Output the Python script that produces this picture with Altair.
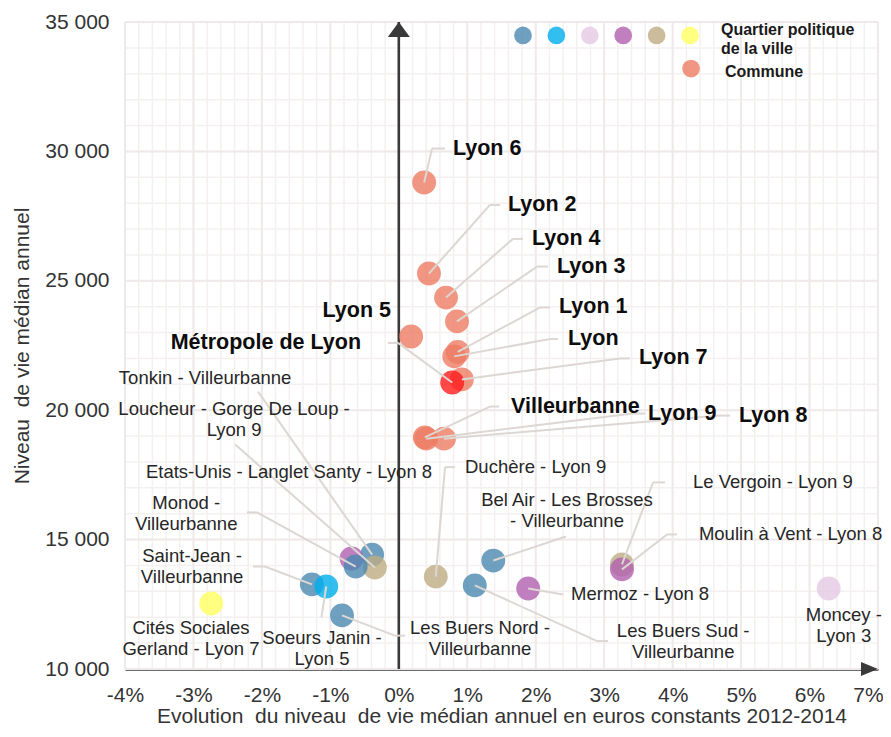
import altair as alt
import pandas as pd
import numpy as np

# ---------------- data ----------------
names = [
    "Lyon 6", "Lyon 2", "Lyon 4", "Lyon 3", "Lyon 5", "Lyon 1", "Lyon", "Lyon 7",
    "Métropole de Lyon", "Villeurbanne", "Lyon 9", "Lyon 8",
    "Tonkin - Villeurbanne", "Loucheur - Gorge De Loup - Lyon 9",
    "Etats-Unis - Langlet Santy - Lyon 8", "Monod - Villeurbanne",
    "Saint-Jean - Villeurbanne", "Soeurs Janin - Lyon 5",
    "Les Buers Nord - Villeurbanne", "Cités Sociales Gerland - Lyon 7",
    "Duchère - Lyon 9", "Bel Air - Les Brosses - Villeurbanne",
    "Les Buers Sud - Villeurbanne", "Mermoz - Lyon 8", "Le Vergoin - Lyon 9",
    "Moulin à Vent - Lyon 8", "Moncey - Lyon 3",
]
evolution = [0.37, 0.44, 0.69, 0.85, 0.18, 0.86, 0.81, 0.92,
             0.78, 0.38, 0.40, 0.66,
             -0.39, -0.35, -0.69, -0.63, -1.27, -1.06, -0.83, -2.74,
             0.54, 1.38, 1.11, 1.89, 3.26, 3.26, 6.28]
niveau = [28800, 25280, 24350, 23430, 22850, 22250, 22080, 21190,
          21070, 18950, 18900, 18900,
          14420, 13920, 14270, 13960, 13270, 13190, 12070, 12530,
          13570, 14190, 13230, 13110, 14040, 13850, 13110]
groupe = ["Commune"] * 8 + ["Métropole"] + ["Commune"] * 3 + [
    "Villeurbanne", "Lyon 9", "Lyon 8", "Villeurbanne", "Villeurbanne", "Lyon 5",
    "Villeurbanne", "Lyon 7", "Lyon 9", "Villeurbanne", "Villeurbanne", "Lyon 8",
    "Lyon 9", "Lyon 8", "Lyon 3"]

# colour groups (QPV by commune, then communes)
group_names = ["Villeurbanne", "Lyon 5", "Lyon 3", "Lyon 8", "Lyon 9", "Lyon 7",
               "Commune", "Métropole"]
group_colors = ["#4b88b0", "#00aeec", "#e5c9e5", "#b060b0", "#beac83", "#ffff60",
                "#ed7c63", "#ff1a1a"]

# ---------------- annotation layout (data units) ----------------
label_text = [
    "Lyon 6", "Lyon 2", "Lyon 4", "Lyon 3", "Lyon 5", "Lyon 1", "Lyon", "Lyon 7",
    "Métropole de Lyon", "Villeurbanne", "Lyon 9", "Lyon 8",
    "Tonkin - Villeurbanne", "Loucheur - Gorge De Loup -\nLyon 9",
    "Etats-Unis - Langlet Santy - Lyon 8", "Monod  -\nVilleurbanne",
    "Saint-Jean -\nVilleurbanne", "Soeurs Janin -\nLyon 5",
    "Les Buers Nord -\nVilleurbanne", "Cités Sociales\nGerland - Lyon 7",
    "Duchère - Lyon 9", "Bel Air - Les Brosses\n- Villeurbanne",
    "Les Buers Sud -\nVilleurbanne", "Mermoz - Lyon 8", "Le Vergoin  - Lyon 9",
    "Moulin à Vent - Lyon 8", "Moncey -\nLyon 3",
]
label_x = [0.79, 1.595, 1.946, 2.311, -0.114, 2.34, 2.472, 3.509,
           -0.552, 1.639, 3.64, 4.97,
           -2.83, -2.407, -1.604, -3.106, -3.02, -1.122, 1.186, -3.036,
           0.967, 2.457, 4.154, 2.516, 4.298, 4.384, 6.50]
label_y = [30110, 27930, 26620, 25550, 23850, 23970, 22750, 22000,
           22600, 20140, 19870, 19790,
           21260, 20030, 17630, 16400, 14350, 11180, 11600, 11565,
           17800, 16520, 11450, 12880, 17210, 15200, 12080]
label_align = ["left"] * 4 + ["right", "left", "left", "left", "right"] + ["left"] * 3 + [
    "center"] * 8 + ["left", "center", "center", "left", "left", "left", "center"]
label_bold = [True] * 12 + [False] * 15
# leader lines: elbow (ex, ey) then horizontal end hx ; None = no leader
lead_ex = [0.485, 1.33, 1.667, 2.019, None, 2.063, 2.209, 3.231,
           -0.012, 1.33, 3.42, 4.648,
           -2.056, -2.39, None, -2.072, -1.955, -1.13, -0.056, None,
           0.675, 2.443, 2.896, 2.40, 3.714, 3.918, None]
lead_ey = [30110, 27930, 26620, 25550, None, 23970, 22750, 22000,
           22600, 20140, 19870, 19790,
           20720, 18670, None, 16050, 13960, 12000, 11290, None,
           17800, 15120, 11080, 12880, 17210, 15200, None]
lead_hx = [0.675, 1.48, 1.813, 2.18, None, 2.209, 2.326, 3.377,
           -0.158, 1.464, 3.597, 4.838,
           -2.056, -2.39, None, -2.218, -2.13, -1.13, 0.09, None,
           0.821, 2.443, 3.056, 2.40, 3.889, 4.065, None]

# legend (positions in data units, top right corner)
legend_groups = group_names[:6] + ["Commune"]
legend_x = [1.814 + 0.488 * i for i in range(6)] + [4.269]
legend_y = [34480] * 6 + [33200]
legend_text = ["Quartier politique", "de la ville", "Commune"]
legend_tx = [4.706, 4.706, 4.764]
legend_ty = [34710, 33976, 33060]

x_ticks = list(range(-4, 8))
y_ticks = [10000, 15000, 20000, 25000, 30000, 35000]

FONT = "Liberation Sans"
W, H = 753, 647
NB = "\u00a0"

pts = pd.DataFrame({"name": names, "x": evolution, "y": niveau, "g": groupe})
labels = pd.DataFrame({"t": label_text, "x": label_x, "y": label_y,
                       "align": label_align, "bold": label_bold})

segs = []
for i in range(len(names)):
    if lead_ex[i] is None:
        continue
    segs.append({"x": evolution[i], "y": niveau[i], "x2": lead_ex[i], "y2": lead_ey[i]})
    if abs(lead_hx[i] - lead_ex[i]) > 1e-9:
        segs.append({"x": lead_ex[i], "y": lead_ey[i], "x2": lead_hx[i], "y2": lead_ey[i]})
segs = pd.DataFrame(segs)

xs = alt.Scale(domain=[-4, 7], nice=False, zero=False)
ys = alt.Scale(domain=[10000, 35000], nice=False, zero=False)

x_axis = alt.Axis(
    values=x_ticks, labelExpr="datum.value + '%'", grid=False, ticks=False,
    domain=True, domainColor="#3a3a3a", domainWidth=2.6, labelFont=FONT,
    labelFontSize=21, labelColor="#333333", labelPadding=15, labelFlush=False,
    labelOffset={"condition": {"test": "datum.value == 7", "value": -10}, "value": 0},
    title=f"Evolution{NB} du niveau{NB} de vie médian annuel en euros constants 2012-2014",
    titleFont=FONT, titleFontSize=21, titleFontWeight="normal", titleColor="#333333",
    titleY=47, titleBaseline="middle")
y_axis = alt.Axis(
    values=y_ticks, labelExpr="replace(format(datum.value, ','), ',', ' ')",
    grid=False, ticks=False, domain=False, labelFont=FONT, labelFontSize=21,
    labelColor="#333333", labelPadding=16, labelFlush=False,
    title=f"Niveau{NB} de vie médian annuel", titleFont=FONT, titleFontSize=21,
    titleFontWeight="normal", titleColor="#333333", titleX=-103,
    titleBaseline="middle", titleAngle=270)


def X(f):
    return alt.X(f, scale=xs, axis=x_axis)


def Y(f):
    return alt.Y(f, scale=ys, axis=y_axis)


color_scale = alt.Scale(domain=group_names, range=group_colors)

# grid
vminor = pd.DataFrame({"x": np.round(np.arange(-4, 7.001, 0.2), 2)})
hminor = pd.DataFrame({"y": np.arange(10000, 35001, 1000)})
vmajor = pd.DataFrame({"x": x_ticks})
hmajor = pd.DataFrame({"y": y_ticks})

grid_vmin = alt.Chart(vminor).mark_rule(color="#f5f0f0", strokeWidth=1.5).encode(
    x=X("x:Q"), y=alt.value(0), y2=alt.value(H))
grid_hmin = alt.Chart(hminor).mark_rule(color="#f5f0f0", strokeWidth=1.5).encode(
    y=Y("y:Q"), x=alt.value(0), x2=alt.value(W))
grid_vmaj = alt.Chart(vmajor).mark_rule(color="#f0e9e9", strokeWidth=2).encode(
    x=X("x:Q"), y=alt.value(0), y2=alt.value(H))
grid_hmaj = alt.Chart(hmajor).mark_rule(color="#f0e9e9", strokeWidth=2).encode(
    y=Y("y:Q"), x=alt.value(0), x2=alt.value(W))

# vertical axis at 0 with arrows
vaxis = alt.Chart(pd.DataFrame({"x": [0.0], "y": [10000], "y2": [35000]})).mark_rule(
    color="#3a3a3a", strokeWidth=2.6).encode(x=X("x:Q"), y=Y("y:Q"), y2="y2:Q")
arrow_up = alt.Chart(pd.DataFrame({"x": [0.0], "y": [35000]})).mark_point(
    shape="M0,0L1.1,1.5L-1.1,1.5Z", size=400, filled=True, color="#3a3a3a",
    opacity=1).encode(x=X("x:Q"), y=Y("y:Q"))
arrow_right = alt.Chart(pd.DataFrame({"x": [7.0], "y": [10000]})).mark_point(
    shape="M0,0L-1.7,-0.7L-1.7,0.7Z", size=400, filled=True, color="#3a3a3a",
    opacity=1).encode(x=X("x:Q"), y=Y("y:Q"))

points = alt.Chart(pts).mark_circle(size=570, opacity=0.8).encode(
    x=X("x:Q"),
    y=Y("y:Q"),
    color=alt.Color("g:N", scale=color_scale, legend=None),
    order=alt.Order("idx:Q"),
).transform_window(idx="row_number()")

leaders = alt.Chart(segs).mark_rule(color="#dcd7d3", strokeWidth=2).encode(
    x=X("x:Q"), y=Y("y:Q"), x2="x2:Q", y2="y2:Q")


def text_layer(align, bold):
    sub = labels[(labels["align"] == align) & (labels["bold"] == bold)]
    return alt.Chart(sub).mark_text(
        align=align, baseline="middle", font=FONT,
        fontSize=21.5 if bold else 18.5,
        fontWeight="bold" if bold else "normal",
        color="#0d0d0d" if bold else "#262626",
        lineBreak="\n", lineHeight=21,
    ).encode(x=X("x:Q"), y=Y("y:Q"), text="t:N")


texts = [text_layer(a, b) for a, b in
         [("left", True), ("right", True), ("left", False), ("center", False)]]

leg_pts = pd.DataFrame({"g": legend_groups, "x": legend_x, "y": legend_y})
legend_pts = alt.Chart(leg_pts).mark_circle(size=314, opacity=0.8).encode(
    x=X("x:Q"), y=Y("y:Q"),
    color=alt.Color("g:N", scale=color_scale, legend=None))
leg_txt = pd.DataFrame({"t": legend_text, "x": legend_tx, "y": legend_ty})
legend_txt = alt.Chart(leg_txt).mark_text(
    align="left", baseline="middle", font=FONT, fontSize=16, fontWeight="bold",
    color="#1a1a1a").encode(x=X("x:Q"), y=Y("y:Q"), text="t:N")

chart = alt.layer(
    grid_vmin, grid_hmin, grid_vmaj, grid_hmaj, vaxis, arrow_up, arrow_right,
    points, leaders, *texts, legend_pts, legend_txt,
).properties(
    width=W, height=H,
    autosize=alt.AutoSizeParams(type="none"),
    padding={"left": 117, "top": 14, "right": 5, "bottom": 58},
).configure_view(stroke=None).configure(background="white")

chart.save("out.html", embed_options={"renderer": "svg", "actions": False})
